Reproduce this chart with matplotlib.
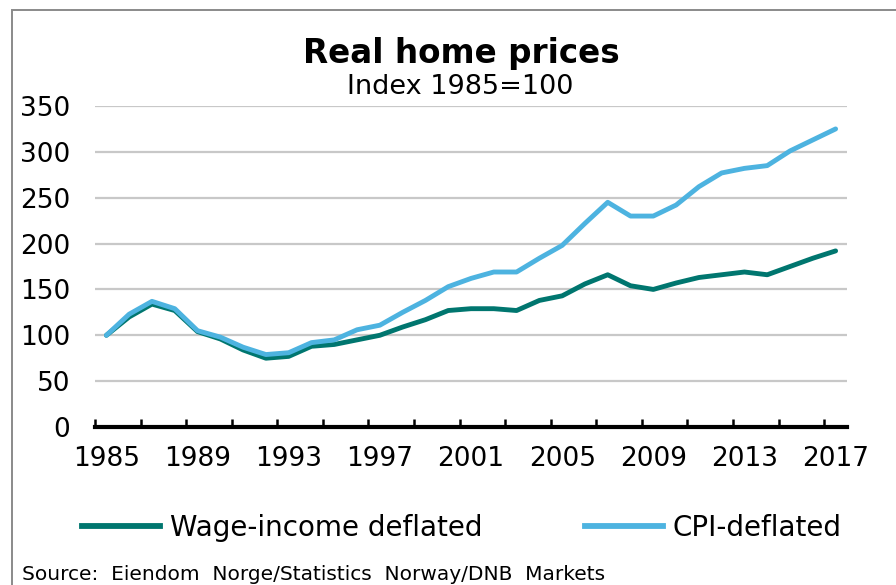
import matplotlib.pyplot as plt
from matplotlib.lines import Line2D
from matplotlib.patches import Rectangle

plt.rcParams['font.family'] = ['DejaVu Sans']

# data (index 1985=100)
years = list(range(1985, 2018))
wage_deflated = [100, 120, 134, 127, 104, 96, 84, 75, 77, 88, 90, 95, 100, 109, 117,
                 127, 129, 129, 127, 138, 143, 156, 166, 154, 150, 157, 163, 166, 169,
                 166, 175, 184, 192]
cpi_deflated = [100, 123, 137, 129, 105, 98, 87, 79, 81, 92, 95, 106, 111, 125, 138,
                153, 162, 169, 169, 184, 198, 222, 245, 230, 230, 242, 262, 277, 282,
                285, 301, 313, 325]
label_years = list(range(1985, 2018, 4))
y_ticks = list(range(0, 351, 50))

dark = '#00766F'
light = '#4DB3E0'
W, H = 896, 585

fig = plt.figure(figsize=(8.96, 5.85), dpi=100)
ax = fig.add_axes([95 / W, 1 - 427 / H, (847 - 95) / W, (427 - 106) / H])

ax.plot(years, wage_deflated, color=dark, lw=3.5, solid_capstyle='round')
ax.plot(years, cpi_deflated, color=light, lw=3.5, solid_capstyle='round')

ax.set_xlim(1984.5, 2017.5)
ax.set_ylim(0, 350)
ax.set_yticks(y_ticks)
ax.tick_params(axis='y', length=0, labelsize=19, pad=18)
ax.yaxis.grid(True, color='#c8c8c8', lw=1.6)
ax.set_axisbelow(True)

# tick marks between categories, labels on category centres
ax.set_xticks([y - 0.5 for y in range(1985, 2018, 2)])
ax.set_xticklabels([])
ax.tick_params(axis='x', which='major', direction='in', length=6, width=1.8, color='black')
ax.set_xticks(label_years, minor=True)
ax.set_xticklabels([str(y) for y in label_years], minor=True)
ax.tick_params(axis='x', which='minor', length=0, labelsize=19, pad=14)

for s in ['left', 'right', 'top']:
    ax.spines[s].set_visible(False)
ax.spines['bottom'].set_linewidth(3)
ax.spines['bottom'].set_color('black')

fig.text(461 / W, 1 - 63 / H, 'Real home prices', ha='center', va='baseline',
         fontsize=23.5, fontweight='bold')
fig.text(460 / W, 1 - 94 / H, 'Index 1985=100', ha='center', va='baseline', fontsize=19.5)

handles = [Line2D([], [], color=dark, lw=4.2), Line2D([], [], color=light, lw=4.2)]
fig.legend(handles, ['Wage-income deflated', 'CPI-deflated'], loc='center',
           bbox_to_anchor=(462 / W, 1 - 528 / H), ncol=2, frameon=False,
           fontsize=20, handlelength=2.8, handletextpad=0.36, columnspacing=3.7,
           borderpad=0, borderaxespad=0)

fig.text(22 / W, 1 - 580 / H, 'Source:  Eiendom  Norge/Statistics  Norway/DNB  Markets',
         ha='left', va='baseline', fontsize=14.5)

fig.patches.append(Rectangle((12 / W, -0.1), 1.2, 1 - 10 / H + 0.1,
                             transform=fig.transFigure, fill=False,
                             edgecolor='#8a8a8a', lw=1.4))

fig.savefig('out.png', dpi=100)
plt.close()
